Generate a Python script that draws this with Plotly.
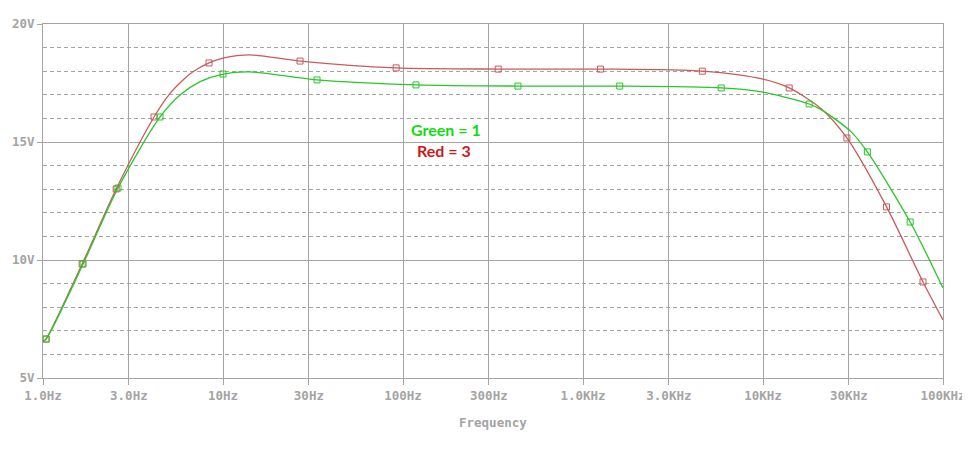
import plotly.graph_objects as go

# ---------------- data ----------------
x_tick_values = [1, 3, 10, 30, 100, 300, 1000, 3000, 10000, 30000, 100000]
x_tick_labels = ["1.0Hz", "3.0Hz", "10Hz", "30Hz", "100Hz", "300Hz",
                 "1.0KHz", "3.0KHz", "10KHz", "30KHz", "100KHz"]
y_tick_values = [5, 10, 15, 20]
y_tick_labels = ["5V", "10V", "15V", "20V"]

# red trace (Red = 3): curve samples
red_freq = [1.0, 1.04, 1.65, 2.55, 4.14, 5.08, 6.0, 6.81, 8.36, 10.0, 14.1, 26.8, 91.6,
            338, 1250, 4600, 10000, 13980, 21130, 29250, 48580, 77430, 100000]
red_volt = [6.53, 6.65, 9.83, 13.01, 16.06, 17.06, 17.63, 17.98, 18.35, 18.55, 18.69, 18.43, 18.14,
            18.09, 18.09, 18.00, 17.66, 17.29, 16.40, 15.17, 12.25, 9.07, 7.46]
# red markers
red_mark_freq = [1.04, 1.65, 2.55, 4.14, 8.36, 26.8, 91.6, 338, 1250, 4600,
                 13980, 29250, 48580, 77430]
red_mark_volt = [6.65, 9.83, 13.01, 16.06, 18.35, 18.43, 18.14, 18.09, 18.09, 18.00,
                 17.29, 15.17, 12.25, 9.07]

# green trace (Green = 1): curve samples
green_freq = [1.0, 1.04, 1.67, 2.61, 4.47, 5.77, 7.46, 10.0, 14.1, 33.3, 118, 435, 1600,
              5860, 10000, 18060, 21130, 30800, 38000, 65700, 100000]
green_volt = [6.57, 6.65, 9.83, 13.05, 16.06, 16.99, 17.56, 17.88, 17.97, 17.63, 17.42, 17.37, 17.37,
              17.29, 17.11, 16.61, 16.36, 15.44, 14.58, 11.61, 8.81]
# green markers
green_mark_freq = [1.04, 1.67, 2.61, 4.47, 10.0, 33.3, 118, 435, 1600, 5860,
                   18060, 38000, 65700]
green_mark_volt = [6.65, 9.83, 13.05, 16.06, 17.88, 17.63, 17.42, 17.37, 17.37, 17.29,
                   16.61, 14.58, 11.61]

x_title = "Frequency"
label_green = "Green = 1"
label_red = "Red = 3"

# ---------------- style ----------------
GRAY = "#a4a4a4"
RED = "#c85a5a"
GREEN = "#28c828"
TICK_FONT = dict(family="DejaVu Sans Mono", size=12.5, color=GRAY, weight="bold")

fig = go.Figure()

fig.add_trace(go.Scatter(x=red_freq, y=red_volt, mode="lines",
                         line=dict(color=RED, width=1.3, shape="spline", smoothing=0.8),
                         hoverinfo="skip", showlegend=False))
fig.add_trace(go.Scatter(x=green_freq, y=green_volt, mode="lines",
                         line=dict(color=GREEN, width=1.3, shape="spline", smoothing=0.8),
                         hoverinfo="skip", showlegend=False))
fig.add_trace(go.Scatter(x=red_mark_freq, y=red_mark_volt, mode="markers",
                         marker=dict(symbol="square-open", size=6, color=RED,
                                     line=dict(width=1, color=RED)),
                         hoverinfo="skip", showlegend=False))
fig.add_trace(go.Scatter(x=green_mark_freq, y=green_mark_volt, mode="markers",
                         marker=dict(symbol="square-open", size=6, color=GREEN,
                                     line=dict(width=1, color=GREEN)),
                         hoverinfo="skip", showlegend=False))

fig.update_layout(
    width=962, height=434,
    margin=dict(l=35, r=27, t=16, b=64, autoexpand=False),
    paper_bgcolor="white", plot_bgcolor="white",
    showlegend=False,
    xaxis=dict(type="log", range=[0, 5], tickvals=x_tick_values, ticktext=x_tick_labels,
               showgrid=True, gridcolor=GRAY, gridwidth=1,
               showline=True, linecolor=GRAY, linewidth=1, mirror=True,
               ticks="outside", ticklen=6, tickcolor=GRAY, tickwidth=1,
               ticklabeloverflow="allow",
               tickfont=TICK_FONT, zeroline=False, fixedrange=True),
    yaxis=dict(range=[5, 20], tickvals=y_tick_values, ticktext=y_tick_labels,
               showgrid=True, gridcolor=GRAY, gridwidth=1,
               showline=True, linecolor=GRAY, linewidth=1, mirror=True,
               ticks="outside", ticklen=5, tickcolor=GRAY, tickwidth=1,
               tickfont=TICK_FONT, zeroline=False, fixedrange=True,
               minor=dict(dtick=1, tick0=5, showgrid=True, gridcolor=GRAY, gridwidth=1,
                          griddash="4px,3px", ticks="")),
    annotations=[
        dict(text=x_title, xref="paper", yref="paper", x=0.5, y=0, yshift=-44,
             xanchor="center", yanchor="middle", showarrow=False,
             font=TICK_FONT),
        dict(text=label_green, xref="x", yref="y", x=2.239, y=15.55,
             xanchor="center", yanchor="middle", showarrow=False,
             font=dict(family="Lato", size=16, color="#10dc10", weight="bold")),
        dict(text=label_red, xref="x", yref="y", x=2.228, y=14.65,
             xanchor="center", yanchor="middle", showarrow=False,
             font=dict(family="Lato", size=16, color="#d01818", weight="bold")),
    ],
)

fig.write_html("out.html")
